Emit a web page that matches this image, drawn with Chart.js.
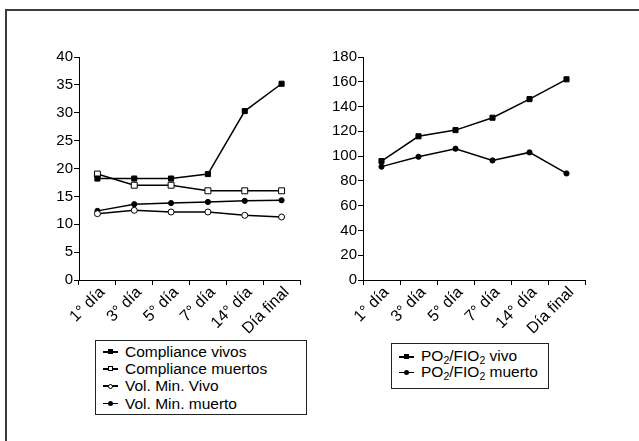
<!DOCTYPE html>
<html>
<head>
<meta charset="utf-8">
<script src="https://cdn.jsdelivr.net/npm/chart.js@4/dist/chart.umd.min.js"></script>
<style>
  html, body { margin: 0; padding: 0; background: #fff; }
  body { width: 639px; height: 441px; position: relative; overflow: hidden;
         font-family: "Liberation Sans", Arial, sans-serif; color: #000; }
  .frame { position: absolute; left: 5px; top: 9px; width: 700px; height: 500px;
           border-left: 2px solid #3c3c3c; border-top: 2px solid #3c3c3c; }
  .wrap { position: absolute; top: 0; }
  .legend { position: absolute; border: 1.5px solid #222; background: #fff;
            font-size: 15.5px; box-sizing: border-box; }
  .legend .row { position: relative; white-space: nowrap; }
  .sym { position: absolute; top: 8px; width: 15px; height: 1.5px; background: #000; }
  .sym::after { content: ""; position: absolute; left: 50%; top: 50%; box-sizing: border-box; }
  .sym.sqf::after { width: 5px; height: 5px; margin: -2.5px 0 0 -2.5px; background: #000; }
  .sym.sqo::after { width: 5px; height: 5px; margin: -2.5px 0 0 -2.5px; background: #fff; border: 1px solid #000; }
  .sym.cio::after { width: 5px; height: 5px; margin: -2.5px 0 0 -2.5px; background: #fff; border: 1px solid #000; border-radius: 50%; }
  .sym.cif::after { width: 5px; height: 5px; margin: -2.5px 0 0 -2.5px; background: #000; border-radius: 50%; }
  .txt { position: absolute; top: 0; }
  sub { font-size: 10.5px; vertical-align: baseline; position: relative; top: 3px; }
</style>
</head>
<body>
<div class="frame"></div>
<div class="wrap" style="left:0;width:320px;height:345px;"><canvas id="left"></canvas></div>
<div class="wrap" style="left:320px;width:300px;height:345px;"><canvas id="right"></canvas></div>

<div class="legend" style="left:95px;top:340px;width:212px;height:75px;padding-top:2px;line-height:17.2px;">
  <div class="row" style="height:17.2px"><span class="sym sqf" style="left:7px"></span><span class="txt" style="left:29px">Compliance vivos</span></div>
  <div class="row" style="height:17.2px"><span class="sym sqo" style="left:7px"></span><span class="txt" style="left:29px">Compliance muertos</span></div>
  <div class="row" style="height:17.2px"><span class="sym cio" style="left:7px"></span><span class="txt" style="left:29px">Vol. Min. Vivo</span></div>
  <div class="row" style="height:17.2px"><span class="sym cif" style="left:7px"></span><span class="txt" style="left:29px">Vol. Min. muerto</span></div>
</div>

<div class="legend" style="left:391px;top:343px;width:158px;height:46px;padding-top:4px;line-height:15.7px;">
  <div class="row" style="height:15.7px"><span class="sym sqf" style="left:7px"></span><span class="txt" style="left:29px">PO<sub>2</sub>/FIO<sub>2</sub> vivo</span></div>
  <div class="row" style="height:15.7px"><span class="sym cif" style="left:7px"></span><span class="txt" style="left:29px">PO<sub>2</sub>/FIO<sub>2</sub> muerto</span></div>
</div>

<script>
// Days of follow-up
const days = ['1° día', '3° día', '5° día', '7° día', '14° día', 'Día final'];

// Pulmonary compliance and minute volume
const complianceVivos = [18.2, 18.2, 18.2, 19, 30.3, 35.2];
const complianceMuertos = [19, 17, 17, 16, 16, 16];
const volMinVivo = [11.9, 12.5, 12.2, 12.2, 11.6, 11.3];
const volMinMuerto = [12.4, 13.6, 13.8, 14, 14.2, 14.3];

// Oxygenation index
const po2VivoValues = [96, 116, 121, 131, 146, 162];
const po2MuertoValues = [91.5, 99.5, 106, 96.5, 103, 86];

const leftTicks = { min: 0, max: 40, step: 5 };
const rightTicks = { min: 0, max: 180, step: 20 };

const FAMILY = '"Liberation Sans", Arial, sans-serif';
const Y_FONT = { family: FAMILY, size: 15 };
const X_FONT = { family: FAMILY, size: 16 };

function series(data, style, filled) {
  const isRect = style === 'rect';
  return {
    data,
    borderColor: '#000',
    borderWidth: 1.5,
    pointStyle: style,
    pointRadius: isRect ? (filled ? 3.6 : 4.2) : (filled ? 2.6 : 3),
    pointBorderWidth: 1,
    pointBorderColor: '#000',
    pointBackgroundColor: filled ? '#000' : '#fff',
    tension: 0,
    fill: false
  };
}

function options(range, yWidth, padRight) {
  return {
    responsive: true,
    maintainAspectRatio: false,
    animation: false,
    events: [],
    layout: { padding: { top: 57, right: padRight, bottom: 0, left: 0 } },
    plugins: { legend: { display: false }, tooltip: { enabled: false } },
    scales: {
      x: {
        offset: true,
        grid: { offset: true, drawOnChartArea: false, drawTicks: true, tickLength: 5, color: '#000', lineWidth: 1 },
        border: { color: '#000', width: 1 },
        ticks: { color: '#000', font: X_FONT, minRotation: 45, maxRotation: 45, autoSkip: false,
                 padding: -2, labelOffset: 5 },
        afterFit(scale) { scale.height = 65; }
      },
      y: {
        min: range.min, max: range.max,
        grid: { drawOnChartArea: false, drawTicks: true, tickLength: 5, color: '#000', lineWidth: 1 },
        border: { color: '#000', width: 1 },
        ticks: { color: '#000', font: Y_FONT, stepSize: range.step, padding: 1 },
        afterFit(scale) { scale.width = yWidth; }
      }
    }
  };
}

new Chart(document.getElementById('left'), {
  type: 'line',
  data: {
    labels: days,
    datasets: [
      series(complianceVivos, 'rect', true),
      series(complianceMuertos, 'rect', false),
      series(volMinVivo, 'circle', false),
      series(volMinMuerto, 'circle', true)
    ]
  },
  options: options(leftTicks, 79, 20)
});

new Chart(document.getElementById('right'), {
  type: 'line',
  data: {
    labels: days,
    datasets: [
      series(po2VivoValues, 'rect', true),
      series(po2MuertoValues, 'circle', true)
    ]
  },
  options: options(rightTicks, 43, 35)
});
</script>
</body>
</html>
